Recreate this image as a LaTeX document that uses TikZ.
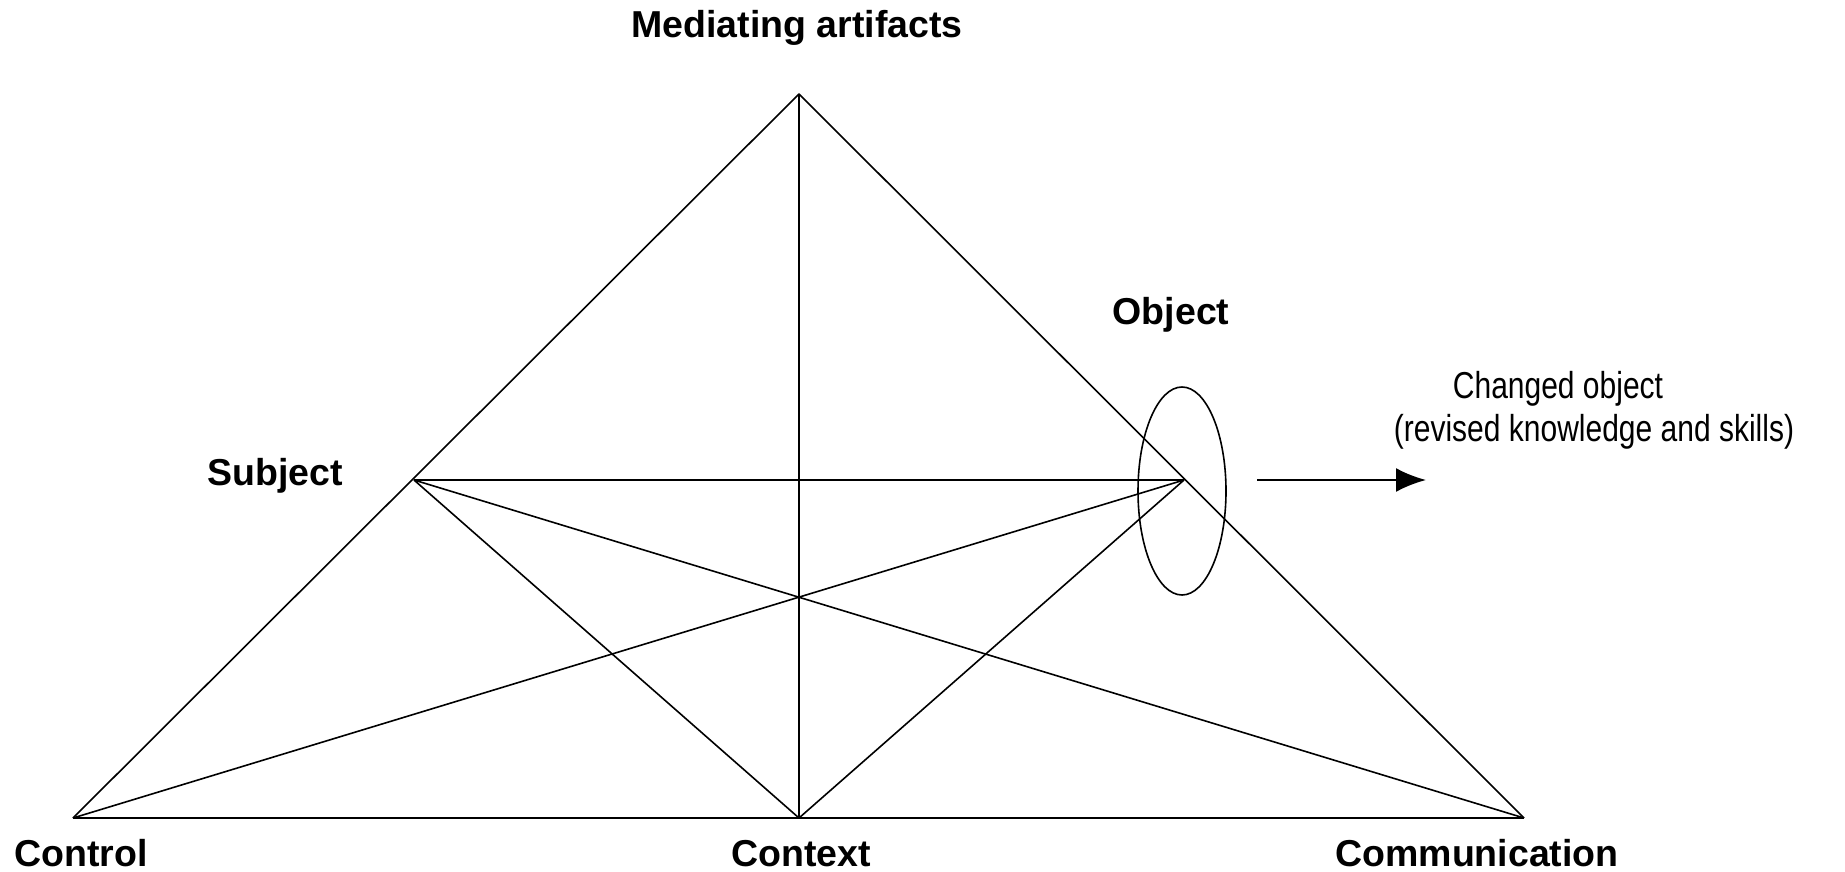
\documentclass[tikz,border=0pt]{standalone}
\usepackage{fontspec}
\setmainfont{Liberation Sans}
\newfontfamily\narrowfont[FakeStretch=0.80]{Liberation Sans}
\usetikzlibrary{arrows.meta}
\begin{document}
\begin{tikzpicture}[x=1pt,y=-1pt,
  thinline/.style={line width=1.6pt,line join=round},
  baseline/.style={line width=2.6pt},
  boldlabel/.style={inner sep=0pt,anchor=base,font=\fontsize{37.5}{44}\selectfont\bfseries},
  plainlabel/.style={inner sep=0pt,anchor=base,font=\narrowfont\fontsize{37.5}{44}\selectfont},
  flowarrow/.style={line width=2.2pt,-{Latex[length=30pt,width=24pt]}}]
\useasboundingbox (0,0) rectangle (1845,872);
% vertices
\coordinate (A) at (799,94);
\coordinate (BL) at (73,818);
\coordinate (BM) at (799,818);
\coordinate (BR) at (1524,818);
\coordinate (S) at (414,480);
\coordinate (O) at (1184,480);
\coordinate (E) at (1182,491);
\coordinate (arS) at (1257,480);
\coordinate (arE) at (1426,480);
% triangle
\draw[thinline] (BL) -- (A) -- (BR);
\draw[baseline] (BL) -- (BR);
\draw[thinline] (A) -- (BM);
\draw[thinline] (S) -- (O);
\draw[thinline] (S) -- (BM);
\draw[thinline] (S) -- (BR);
\draw[thinline] (O) -- (BL);
\draw[thinline] (O) -- (BM);
% ellipse round the object
\draw[thinline] (E) ellipse [x radius=44pt, y radius=104pt];
% arrow
\draw[flowarrow] (arS) -- (arE);
% labels
\node[boldlabel] (lmed) at (797,38) {Mediating artifacts};
\node[boldlabel] (lobj) at (1171,324) {Object};
\node[boldlabel] (lsub) at (275,485) {Subject};
\node[boldlabel] (lcon) at (81,866) {Control};
\node[boldlabel] (lctx) at (801,866) {Context};
\node[boldlabel] (lcom) at (1477,866) {Communication};
\node[plainlabel] (lch1) at (1558,398) {Changed object};
\node[plainlabel] (lch2) at (1594,441) {(revised knowledge and skills)};
\end{tikzpicture}
\end{document}
